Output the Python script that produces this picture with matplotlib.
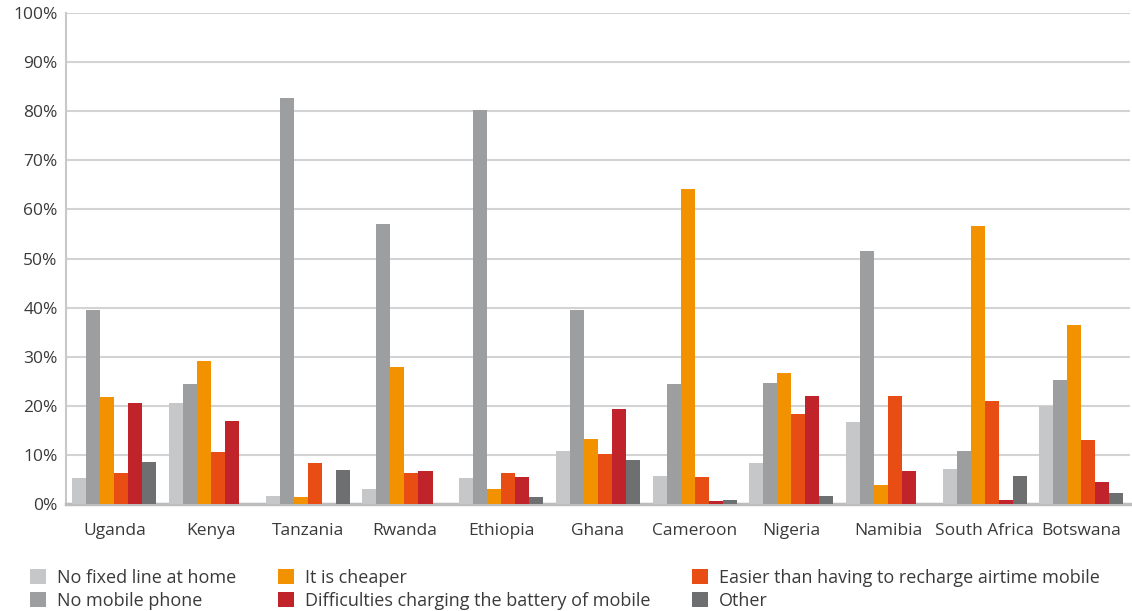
import numpy as np
import matplotlib
matplotlib.use("Agg")
import matplotlib.pyplot as plt
from matplotlib.patches import Patch
from matplotlib.ticker import FuncFormatter

countries = ["Uganda", "Kenya", "Tanzania", "Rwanda", "Ethiopia", "Ghana",
             "Cameroon", "Nigeria", "Namibia", "South Africa", "Botswana"]

no_fixed_line = [5.2, 20.5, 1.7, 3.0, 5.2, 10.7, 5.8, 8.3, 16.8, 7.1, 20.0]
no_mobile_phone = [39.5, 24.4, 82.7, 57.0, 80.2, 39.5, 24.4, 24.6, 51.5, 10.8, 25.2]
it_is_cheaper = [21.7, 29.1, 1.5, 27.9, 3.0, 13.2, 64.2, 26.7, 3.8, 56.6, 36.5]
easier_recharge = [6.4, 10.5, 8.3, 6.4, 6.4, 10.1, 5.4, 18.3, 22.1, 20.9, 13.0]
charging_difficulties = [20.5, 17.0, 0.0, 6.8, 5.4, 19.3, 0.7, 21.9, 6.8, 0.8, 4.5]
other = [8.5, 0.0, 7.0, 0.0, 1.5, 8.9, 0.9, 1.7, 0.0, 5.7, 2.2]

series_names = ["No fixed line at home", "No mobile phone", "It is cheaper",
                "Easier than having to recharge airtime mobile",
                "Difficulties charging the battery of mobile", "Other"]
series_values = [no_fixed_line, no_mobile_phone, it_is_cheaper,
                 easier_recharge, charging_difficulties, other]
series_colors = ["#C6C7C8", "#9D9EA0", "#F39200", "#E84E14", "#C1232B", "#6E6F71"]

plt.rcParams["font.family"] = ["Open Sans", "DejaVu Sans"]
text_color = "#3A3A3A"

fig = plt.figure(figsize=(11.32, 6.11), dpi=100)
ax = fig.add_axes([0.0583, 0.1751, 0.9397, 0.8036])

x = np.arange(len(countries))
width = 0.145
n = len(series_values)
for i, (vals, col) in enumerate(zip(series_values, series_colors)):
    offs = (i - (n - 1) / 2) * width
    ax.bar(x + offs, np.array(vals) / 100.0, width=width, color=col,
           linewidth=0, zorder=3)

ax.set_xlim(-0.5, len(countries) - 0.5)
ax.set_ylim(0, 1.0)
ax.set_yticks(np.arange(0, 1.01, 0.1))
ax.yaxis.set_major_formatter(FuncFormatter(lambda v, p: f"{v*100:.0f}%"))
ax.set_xticks(x)
ax.set_xticklabels(countries)
ax.tick_params(axis="both", length=0, labelsize=12.5, colors=text_color)
ax.tick_params(axis="x", pad=14)
ax.tick_params(axis="y", pad=6)
ax.grid(axis="y", color="#D3D3D3", linewidth=1.5, zorder=0)
ax.set_axisbelow(True)
for s in ["top", "right"]:
    ax.spines[s].set_visible(False)
ax.spines["left"].set_color("#C8C8C8")
ax.spines["left"].set_linewidth(1.5)
ax.spines["bottom"].set_color("#BDBDBD")
ax.spines["bottom"].set_linewidth(2.5)

order = [0, 1, 2, 4, 3, 5]
handles = [Patch(facecolor=series_colors[k], edgecolor="none") for k in order]
labels = [series_names[k] for k in order]
leg = fig.legend(handles, labels, ncol=3, loc="upper left",
                 bbox_to_anchor=(0.0265, 0.0686), frameon=False,
                 fontsize=13, handlelength=0.9, handleheight=0.9,
                 handletextpad=0.6, columnspacing=2.3, labelspacing=0.25,
                 borderaxespad=0, borderpad=0)
for t in leg.get_texts():
    t.set_color(text_color)

fig.savefig("out.png", dpi=100)
